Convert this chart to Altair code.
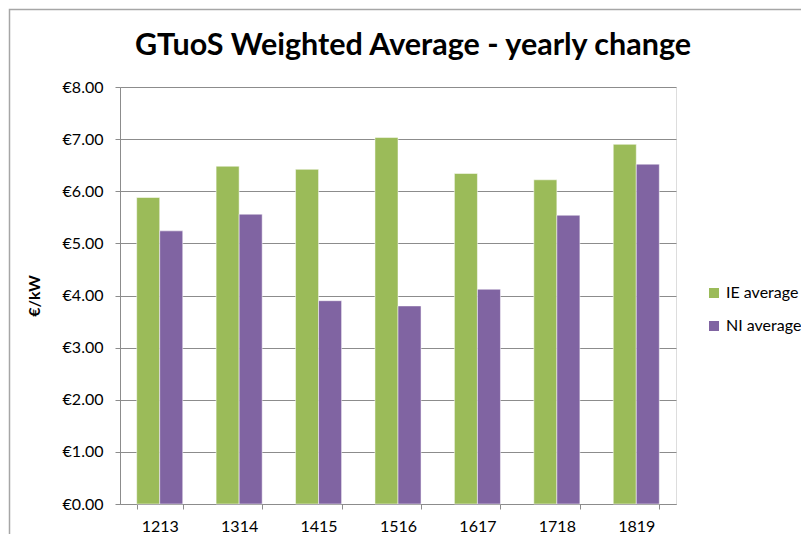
import altair as alt
import pandas as pd

years = ["1213", "1314", "1415", "1516", "1617", "1718", "1819"]
ie_avg = [5.88, 6.48, 6.42, 7.03, 6.34, 6.22, 6.90]
ni_avg = [5.24, 5.56, 3.90, 3.80, 4.12, 5.54, 6.52]
series = ["IE average", "NI average"]
colors = ["#9BBB59", "#8064A2"]
y_ticks = [0, 1, 2, 3, 4, 5, 6, 7, 8]

rows = []
for i, y in enumerate(years):
    rows.append({"year": y, "series": series[0], "value": ie_avg[i]})
    rows.append({"year": y, "series": series[1], "value": ni_avg[i]})
df = pd.DataFrame(rows)

FONT = "Lato"
GRID = "#8C8C8C"

bars = alt.Chart(df).mark_bar(stroke="#ffffff", strokeOpacity=0.5, strokeWidth=1).encode(
    x=alt.X("year:N", sort=years, title=None,
            scale=alt.Scale(paddingInner=0.42, paddingOuter=0.21),
            axis=alt.Axis(labelAngle=0, tickBand="extent", domainColor=GRID, tickColor=GRID,
                          tickSize=5, labelPadding=9, labelFontSize=16, labelColor="#000000",
                          labelFont=FONT, grid=False)),
    xOffset=alt.XOffset("series:N", sort=series, scale=alt.Scale(paddingInner=0, paddingOuter=0)),
    y=alt.Y("value:Q", title="€/kW",
            scale=alt.Scale(domain=[0, 8], nice=False),
            axis=alt.Axis(values=y_ticks, labelExpr="'€' + format(datum.value, '.2f')",
                          domainColor=GRID, tickColor=GRID, gridColor=GRID, gridWidth=1.2,
                          tickSize=5, labelPadding=12, labelFontSize=16, labelColor="#000000",
                          labelFont=FONT, titleFont=FONT, titleFontSize=16, titleFontWeight="bold",
                          titleColor="#000000", titlePadding=20)),
    color=alt.Color("series:N", sort=series, scale=alt.Scale(domain=series, range=colors),
                    legend=alt.Legend(title=None, orient="none", legendX=586, legendY=198,
                                      symbolType="square", symbolSize=100, symbolStrokeWidth=0,
                                      labelFontSize=16, labelFont=FONT, labelColor="#000000",
                                      rowPadding=17, symbolOffset=0, labelOffset=4)),
)

frame = alt.Chart(pd.DataFrame({"a": [0]})).mark_rect(
    fill=None, stroke="#A6A6A6", strokeWidth=1.5, clip=False
).encode(
    x=alt.value(-110.5), x2=alt.value(700), y=alt.value(-77.5), y2=alt.value(460)
)

chart = alt.layer(frame, bars).properties(
    width=556, height=417,
    autosize=alt.AutoSizeParams(type="none"),
    padding={"left": 112, "top": 79, "right": 125, "bottom": 30},
    title=alt.TitleParams("GTuoS Weighted Average - yearly change", font=FONT, fontSize=30.5,
                          fontWeight="bold", color="#000000", anchor="middle", dx=15,
                          offset=0, dy=53),
).configure_view(stroke=None).configure(
    font=FONT
)

chart.save("out.html", embed_options={"renderer": "svg", "actions": False})
